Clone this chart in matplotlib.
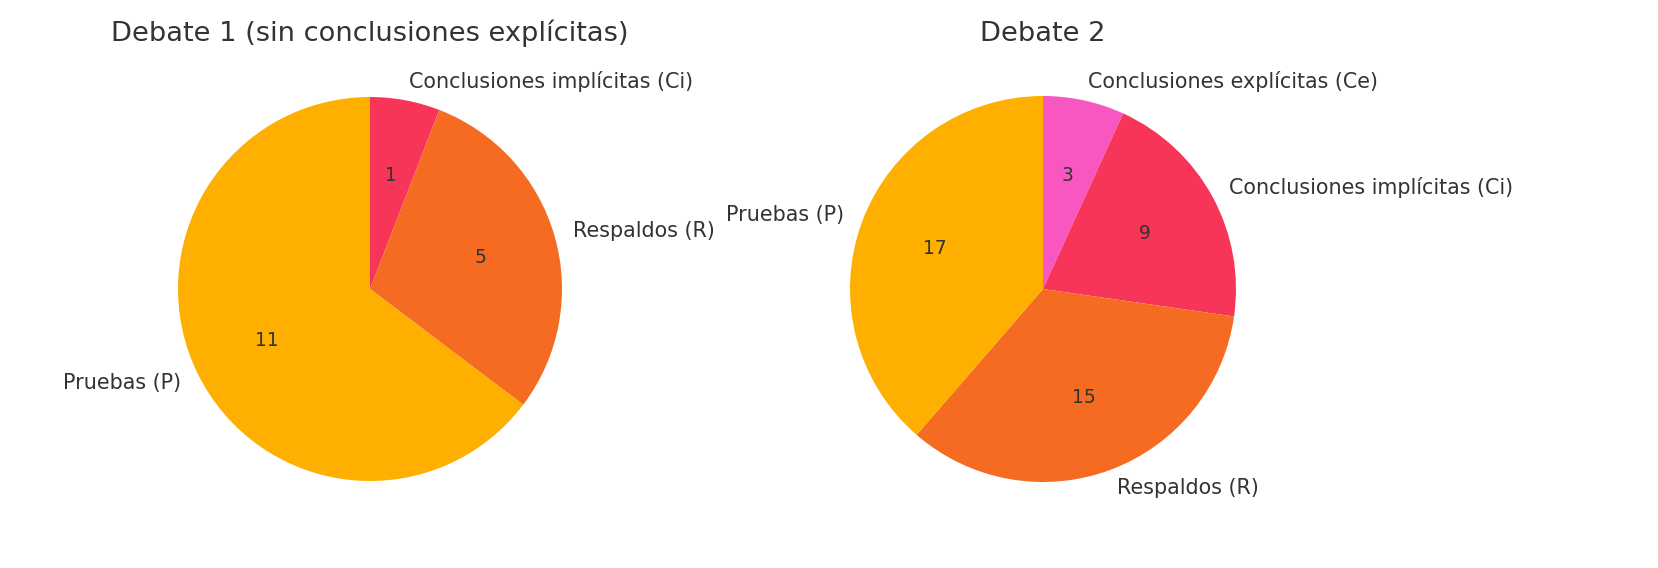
import matplotlib
matplotlib.use("Agg")
import matplotlib.pyplot as plt

labels1 = ["Conclusiones implícitas (Ci)", "Respaldos (R)", "Pruebas (P)"]
values1 = [1, 5, 11]
colors1 = ["#F73558", "#F46B21", "#FFAF00"]
title1 = "Debate 1 (sin conclusiones explícitas)"

labels2 = ["Conclusiones explícitas (Ce)", "Conclusiones implícitas (Ci)", "Respaldos (R)", "Pruebas (P)"]
values2 = [3, 9, 15, 17]
colors2 = ["#F857C1", "#F73558", "#F46B21", "#FFAF00"]
title2 = "Debate 2"

W, H, DPI = 1658, 568, 150
fig = plt.figure(figsize=(W / DPI, H / DPI), dpi=DPI)
TXT = "#333333"

def make_pie(cx, cy, r, labels, values, colors, title):
    half = r * 1.25
    ax = fig.add_axes([(cx - half) / W, (H - cy - half) / H, 2 * half / W, 2 * half / H])
    total = sum(values)
    wedges, texts, autotexts = ax.pie(
        values, labels=labels, colors=colors, startangle=90, counterclock=False,
        autopct=lambda p: f"{round(p * total / 100):d}",
        textprops={"color": TXT, "fontsize": 9.9},
    )
    for t in autotexts:
        t.set_fontsize(9)
    ax.set_xlim(-1.25, 1.25)
    ax.set_ylim(-1.25, 1.25)
    fig.text(cx / W, (H - 41) / H, title, ha="center", va="baseline", fontsize=13.1, color=TXT)

make_pie(370, 289, 192, labels1, values1, colors1, title1)
make_pie(1043, 289, 193, labels2, values2, colors2, title2)

fig.savefig("out.png", dpi=DPI, facecolor="white")
